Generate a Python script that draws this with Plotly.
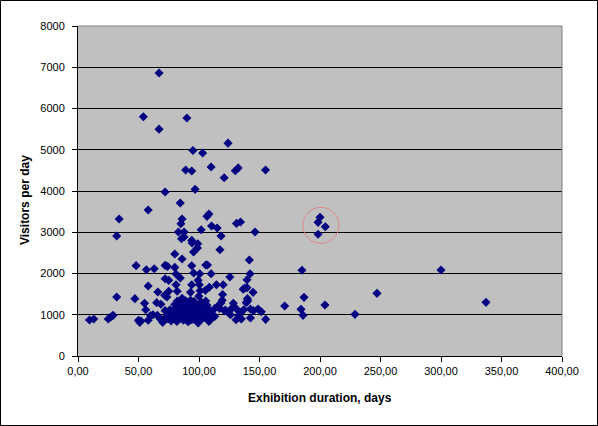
import plotly.graph_objects as go

# ---- data ----
points = [
    # sparse left
    (9.5, 873), (13, 897), (25, 897), (27, 945), (29, 986), (32, 2910), (32, 1430), (34, 3320),
    (47, 1390), (48, 2190), (50, 865), (51, 816), (52, 850), (54, 5800), (55, 1277), (56, 1123),
    (56.5, 2092), (58, 3540), (58, 1697), (58, 865), (60, 978), (63, 2116), (65, 1293), (66, 1552),
    (67, 6860), (67, 5500), (68.5, 1253), (70, 816), (71, 865), (72, 3975), (72, 2196), (72, 1871),
    (71.6, 1471), (73.5, 1430), (74, 2172), (74, 905), (75, 1834), (75, 1568), (72, 1100), (68, 900),
    (62, 1000), (65.6, 984), (76.3, 921),
    # middle
    (80, 2473), (80, 2148), (81, 1988), (81, 1729), (82, 1568), (83, 3006), (84.5, 3709), (84.5, 1890),
    (85, 3207), (85.5, 2844), (86, 3321), (86, 2352), (87.7, 3006), (87.7, 2885), (89, 4510), (90, 5770),
    (93, 1543), (94, 4485), (94, 2803), (94.3, 2739), (94, 2189), (94, 1729), (95, 4980), (95.5, 2521),
    (95.6, 2012), (96.8, 4040), (98.7, 2618), (99, 2722), (99.3, 1834), (99.9, 1450), (100.3, 1729),
    (100.6, 1995), (100.9, 1584), (101.8, 3062), (103, 4920), (105.3, 1592), (105.6, 2205), (107, 2205),
    (106.6, 3385), (108.2, 3442), (108.5, 1665), (110, 4580), (110, 1995), (110.4, 3151), (114.4, 1729),
    (115, 3103), (117.3, 2577), (118.2, 2909), (119.5, 1490), (120, 1729), (120.8, 4320), (124, 5160),
    (125.5, 1915), (130, 4490), (131, 3215), (132.4, 4560), (134.3, 3248), (136.5, 1620), (137.8, 1650),
    (139.7, 1850), (139.7, 1657), (140, 1390), (140.3, 1340), (141.6, 2327), (142.2, 1995), (144.7, 1543),
    (146.3, 3006), (155, 4510),
    (105.6, 1333), (106.6, 1228), (119.2, 1350), (128.4, 1277), (139.1, 1293), (122, 1106), (132.6, 1090),
    (142.5, 1138), (148.8, 1138), (151.5, 1074), (142.5, 922), (130.6, 880), (132.9, 978), (155.1, 889),
    (108.2, 840), (99.3, 800), (91.1, 832), (81.7, 840), (113, 960), (116, 1220), (117, 1150), (118, 1280),
    (121, 1100), (124, 1060), (127, 1150), (129, 1200), (134, 1050), (137, 1120), (145, 1100), (126, 1000),
    (135, 900),
    # dense cluster
    (78, 1000), (79, 1100), (80, 900), (80, 1250), (81, 1050), (82, 960), (82, 1180), (82, 1330),
    (83, 880), (83, 1100), (84, 1010), (84, 1230), (85, 920), (85, 1150), (85, 1300), (86, 980),
    (86, 1080), (86, 1400), (87, 870), (87, 1200), (88, 1030), (88, 1120), (88, 1280), (89, 950),
    (89, 1180), (89, 1340), (90, 860), (90, 1060), (90, 1240), (91, 990), (91, 1150), (91, 1300),
    (92, 900), (92, 1100), (92, 1210), (93, 1020), (93, 1350), (94, 880), (94, 1140), (94, 1260),
    (95, 960), (95, 1060), (95, 1190), (96, 1320), (96, 900), (97, 1000), (97, 1120), (98, 850),
    (98, 1240), (99, 1080), (100, 950), (100, 1180), (101, 1050), (102, 890), (102, 1300), (103, 1000),
    (104, 1150), (105, 920), (106, 1060), (107, 980), (109, 1100), (110, 900), (111, 1000), (113, 1150),
    (76, 1120), (77, 850), (74, 1050), (73, 960),
    # sparse right
    (170.8, 1212), (184.3, 1131), (185.1, 2077), (186, 986), (186.8, 1422), (198.4, 2950), (198.4, 3240),
    (200, 3362), (204.4, 3135), (204.1, 1236), (228.9, 1010), (247.1, 1519), (300, 2085), (337.2, 1301),
]
duration_days = [p[0] for p in points]
visitors_per_day = [p[1] for p in points]

x_tick_values = [0, 50, 100, 150, 200, 250, 300, 350, 400]
x_tick_labels = ["0,00", "50,00", "100,00", "150,00", "200,00", "250,00", "300,00", "350,00", "400,00"]
y_tick_values = [0, 1000, 2000, 3000, 4000, 5000, 6000, 7000, 8000]

highlight_center = (200.8, 3168)
highlight_radius_days = 14.9
highlight_radius_visitors = 436

# ---- layout geometry ----
W, H = 598, 426
L, R, T, B = 78, 36, 26, 70
pw, ph = W - L - R, H - T - B

def px_x(p):
    return (p - L) / pw

def px_y(p):
    return (H - B - p) / ph

fig = go.Figure()
fig.add_trace(go.Scatter(
    x=duration_days, y=visitors_per_day, mode="markers",
    marker=dict(symbol="diamond", size=7, color="#000080", line=dict(width=0)),
    hoverinfo="x+y", showlegend=False,
))

font = dict(family="Liberation Sans, Arial, sans-serif", size=11, color="black")

fig.update_layout(
    width=W, height=H,
    margin=dict(l=L, r=R, t=T, b=B, pad=0),
    paper_bgcolor="white", plot_bgcolor="#C0C0C0",
    font=font,
    xaxis=dict(
        range=[0, 400], tickvals=x_tick_values, ticktext=x_tick_labels,
        showgrid=False, zeroline=False, showline=True, linecolor="black", linewidth=1,
        ticks="outside", ticklen=5, tickcolor="black", tickfont=font,
    ),
    yaxis=dict(
        range=[0, 8000], tickvals=y_tick_values,
        showgrid=True, gridcolor="black", gridwidth=1, zeroline=False,
        showline=True, linecolor="black", linewidth=1,
        ticks="outside", ticklen=5, tickcolor="black", tickfont=font,
        ticklabelstandoff=5,
    ),
    shapes=[
        # plot-area border (top and right, gray)
        dict(type="line", xref="paper", yref="paper", x0=0, x1=1, y0=1, y1=1,
             line=dict(color="#808080", width=1), layer="above"),
        dict(type="line", xref="paper", yref="paper", x0=1, x1=1, y0=0, y1=1,
             line=dict(color="#808080", width=1), layer="above"),
        # highlight circle
        dict(type="circle", xref="x", yref="y",
             x0=highlight_center[0] - highlight_radius_days, x1=highlight_center[0] + highlight_radius_days,
             y0=highlight_center[1] - highlight_radius_visitors, y1=highlight_center[1] + highlight_radius_visitors,
             line=dict(color="#E08888", width=1), layer="above"),
        # outer chart border
        dict(type="rect", xref="paper", yref="paper",
             x0=px_x(0.5), x1=px_x(W - 0.5), y0=px_y(H - 0.5), y1=px_y(0.5),
             line=dict(color="black", width=1), layer="above"),
    ],
    annotations=[
        dict(text="<b>Visitors per day</b>", xref="paper", yref="paper",
             x=px_x(25), y=px_y(200), textangle=-90, showarrow=False,
             xanchor="center", yanchor="middle", font=dict(family=font["family"], size=12, color="black")),
        dict(text="<b>Exhibition duration, days</b>", xref="paper", yref="paper",
             x=px_x(320), y=px_y(398), showarrow=False,
             xanchor="center", yanchor="middle", font=dict(family=font["family"], size=12, color="black")),
    ],
)

fig.write_html(
    "out.html",
    config={"displayModeBar": False},
    post_script="document.body.style.margin='0';document.body.style.overflow='hidden';",
)
